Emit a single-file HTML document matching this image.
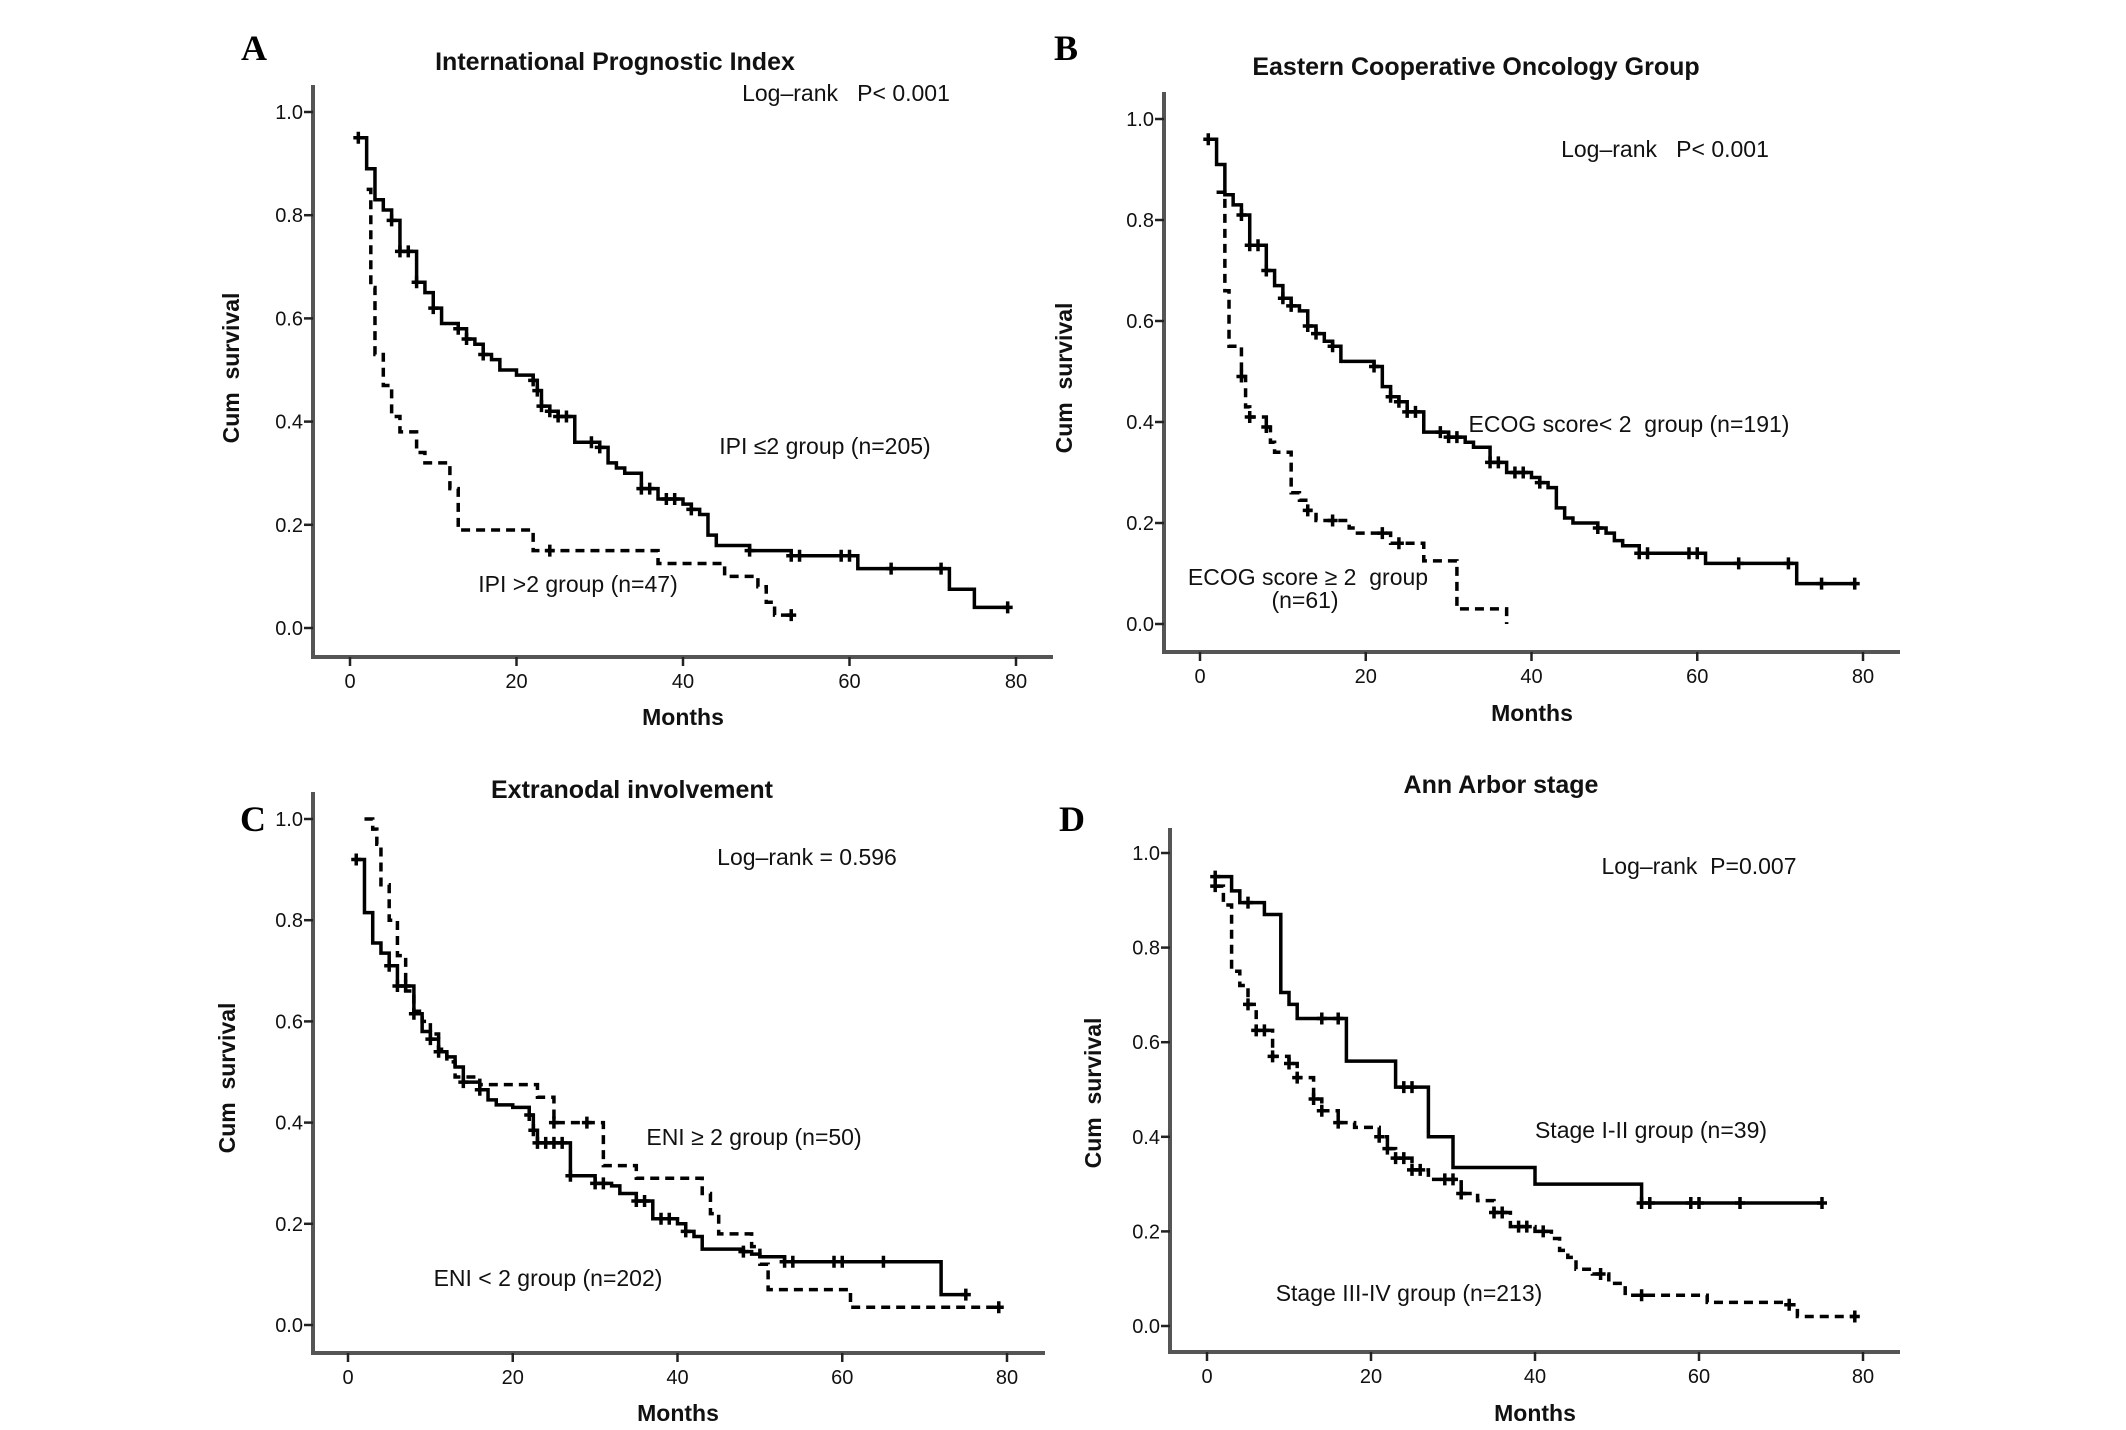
<!DOCTYPE html>
<html><head><meta charset="utf-8">
<style>
html,body{margin:0;padding:0;background:#fff;}
svg{display:block;}
text{white-space:pre;}
.tick{font-family:"Liberation Sans",Arial,sans-serif;font-size:20px;fill:#111;}
.ttl{font-family:"Liberation Sans",Arial,sans-serif;font-size:25px;font-weight:bold;fill:#111;}
.lbl{font-family:"Liberation Sans",Arial,sans-serif;font-size:23px;fill:#111;}
.ax{font-family:"Liberation Sans",Arial,sans-serif;font-size:23px;font-weight:bold;fill:#111;}
.pl{font-family:"Liberation Serif","Times New Roman",serif;font-size:36px;font-weight:bold;fill:#000;}
</style></head>
<body>
<svg id="fig" width="2126" height="1430" viewBox="0 0 2126 1430" xmlns="http://www.w3.org/2000/svg" xml:space="preserve"></svg>
<script>
// ---- Data (month of step, survival after step, censor times) ----
var xTicks = [0, 20, 40, 60, 80];
var yTicks = [0.0, 0.2, 0.4, 0.6, 0.8, 1.0];
var yTickLabels = ["0.0", "0.2", "0.4", "0.6", "0.8", "1.0"];

// Panel A: IPI
var aSolidT = [1,2,3,4,5,6,8,9,10,11,13,14,15,16,17,18,20,22,22.5,23,24,25,27,30,31,32,33,35,37,40,41,42,43,44,48,53,61,72,75];
var aSolidS = [0.95,0.89,0.83,0.81,0.79,0.73,0.67,0.65,0.62,0.59,0.58,0.56,0.55,0.53,0.52,0.50,0.49,0.48,0.46,0.43,0.42,0.41,0.36,0.35,0.32,0.31,0.30,0.27,0.25,0.24,0.23,0.22,0.18,0.16,0.15,0.14,0.115,0.075,0.04];
var aSolidC = [1,5,6,7,8,10,13,14,16,22,22.5,23,24,25,26,29,30,35,36,38,39,41,48,53,54,59,60,65,71,79];
var aDashT = [2,2.5,3,4,5,6,8,9,12,13,22,37,45,49,50,51];
var aDashS = [0.85,0.66,0.53,0.47,0.41,0.38,0.34,0.32,0.27,0.19,0.15,0.125,0.10,0.08,0.05,0.025];
var aDashC = [24,53];

// Panel B: ECOG
var bSolidT = [1,2,3,4,5,6,8,9,10,11,12,13,14,15,16,17,21,22,23,24,25,27,30,32,33,35,37,40,41,42,43,44,45,48,49,50,51,53,61,72];
var bSolidS = [0.96,0.91,0.85,0.83,0.81,0.75,0.70,0.67,0.645,0.63,0.62,0.59,0.575,0.56,0.55,0.52,0.51,0.47,0.45,0.44,0.42,0.38,0.37,0.36,0.35,0.32,0.30,0.29,0.28,0.27,0.23,0.21,0.20,0.19,0.18,0.165,0.155,0.14,0.12,0.08];
var bSolidC = [1,5,6,7,8,10,11,13,14,16,21,23,24,25,26,29,30,31,35,36,38,39,41,48,53,54,59,60,65,71,75,79];
var bDashT = [2,3,3.5,5,5.5,6,8,8.5,9,11,12,13,14,18,19,23,27,31,37];
var bDashS = [0.855,0.66,0.55,0.49,0.43,0.41,0.39,0.36,0.34,0.26,0.245,0.225,0.205,0.19,0.18,0.16,0.125,0.03,0.0];
var bDashC = [5,6,8,13,16,22,24];

// Panel C: Extranodal
var cSolidT = [1,2,3,4,5,6,8,9,10,11,12,13,14,16,17,18,20,22,22.5,23,27,30,32,33,35,37,40,41,42,43,48,49,50,53,72];
var cSolidS = [0.92,0.815,0.755,0.735,0.71,0.67,0.615,0.58,0.565,0.54,0.53,0.51,0.48,0.465,0.445,0.435,0.43,0.415,0.385,0.36,0.295,0.28,0.275,0.26,0.245,0.21,0.20,0.185,0.175,0.15,0.145,0.14,0.135,0.125,0.06];
var cSolidC = [1,5,6,7,8,10,11,14,16,22,22.5,23,24,25,26,27,30,31,35,36,38,39,41,48,53,54,59,60,65,75];
var cDashT = [2,3,3.5,4,5,6,7,8,9,10,11,12,13,16,23,25,31,35,43,44,45,49,50,51,61];
var cDashS = [1.0,0.98,0.95,0.87,0.80,0.73,0.66,0.62,0.60,0.575,0.545,0.52,0.49,0.475,0.45,0.40,0.315,0.29,0.26,0.22,0.18,0.155,0.12,0.07,0.035];
var cDashC = [25,29,79];

// Panel D: Ann Arbor
var dSolidT = [1,3,4,7,9,10,11,17,23,27,30,40,53];
var dSolidS = [0.95,0.92,0.895,0.87,0.705,0.68,0.65,0.56,0.505,0.40,0.335,0.30,0.26];
var dSolidC = [1,5,14,16,24,25,53,54,59,60,65,75];
var dDashT = [1,2,3,4,5,6,8,10,11,13,14,16,18,21,22,23,25,27,31,33,35,37,40,42,43,44,45,47,49,51,61,71,72];
var dDashS = [0.93,0.89,0.75,0.72,0.68,0.625,0.57,0.555,0.525,0.48,0.455,0.43,0.42,0.40,0.375,0.355,0.33,0.31,0.28,0.265,0.24,0.21,0.20,0.185,0.16,0.145,0.12,0.11,0.09,0.065,0.05,0.045,0.02];
var dDashC = [1,5,6,7,8,10,11,13,14,16,21,22,23,24,25,26,29,30,31,35,36,38,39,41,48,53,71,79];

var NS = "http://www.w3.org/2000/svg";
var svg = document.getElementById("fig");
function mk(tag, attrs, parent, txt){
  var e = document.createElementNS(NS, tag);
  for (var k in attrs) e.setAttribute(k, attrs[k]);
  if (txt !== undefined) e.textContent = txt;
  (parent || svg).appendChild(e);
  return e;
}
function survAt(T, S, t){
  var v = S[0];
  for (var i = 0; i < T.length; i++) if (T[i] <= t) v = S[i];
  return v;
}

function drawPanel(p){
  var g = mk("g", {});
  
  
  var X = function(m){ return p.x0 + (p.x80 - p.x0) * m / 80; };
  var Y = function(v){ return p.y0 - (p.y0 - p.y1) * v; };

  var axes = mk("path", {d:"M"+p.ax+" "+p.top+" V"+p.axy+" H"+p.right, fill:"none", stroke:"#555", "stroke-width":4}, g);
  
  

  yTicks.forEach(function(v, i){
    var t = mk("line", {x1:p.ax-9, x2:p.ax, y1:Y(v), y2:Y(v), stroke:"#222", "stroke-width":2.5}, g);
    
    
    var l = mk("text", {x:p.ax-10, y:Y(v)+7, "text-anchor":"end", "class":"tick"}, g, yTickLabels[i]);
    
    
  });
  xTicks.forEach(function(m){
    var t = mk("line", {x1:X(m), x2:X(m), y1:p.axy, y2:p.axy+9, stroke:"#222", "stroke-width":2.5}, g);
    
    
    var l = mk("text", {x:X(m), y:p.axy+31, "text-anchor":"middle", "class":"tick"}, g, String(m));
    
    
  });

  function series(T, S, C, dashed, nm){
    var d = "M" + X(T[0]) + " " + Y(S[0]);
    for (var i = 1; i < T.length; i++) d += " H" + X(T[i]) + " V" + Y(S[i]);
    var endT = Math.max(T[T.length-1], C.length ? C[C.length-1] : 0);
    d += " H" + X(endT);
    var attrs = {d:d, fill:"none", stroke:"#000", "stroke-width":3.5};
    if (dashed) attrs["stroke-dasharray"] = "9 6";
    var path = mk("path", attrs, g);
    
    
    C.forEach(function(c){
      var cx = X(c), cy = Y(survAt(T, S, c));
      var m = mk("path", {d:"M"+(cx-5)+" "+cy+" H"+(cx+5)+" M"+cx+" "+(cy-6)+" V"+(cy+6), stroke:"#000", "stroke-width":3.5, fill:"none"}, g);
      
      
    });
  }
  series(p.sT, p.sS, p.sC, false, "solid-group");
  series(p.dT, p.dS, p.dC, true, "dashed-group");

  var title = mk("text", {x:p.tx, y:p.ty+9, "text-anchor":"middle", "class":"ttl"}, g, p.title);
  
  
  var letter = mk("text", {x:p.lx, y:p.ly+13, "text-anchor":"middle", "class":"pl"}, g, p.letter);
  
  
  var lr = mk("text", {x:p.lrx, y:p.lry+8, "text-anchor":"middle", "class":"lbl"}, g, p.logrank);
  
  
  var yt = mk("text", {x:0, y:0, "text-anchor":"middle", "class":"ax", transform:"translate("+(p.cx+8)+","+p.cy+") rotate(-90)"}, g, "Cum  survival");
  
  
  var xt = mk("text", {x:p.mx, y:p.my+8, "text-anchor":"middle", "class":"ax"}, g, "Months");
  
  
  p.labels.forEach(function(L){
    var t = mk("text", {x:L[0], y:L[1]+8, "text-anchor":"middle", "class":"lbl"}, g, L[2]);
    
    
  });
}

drawPanel({name:"panel-a-ipi", letter:"A", title:"International Prognostic Index", logrank:"Log\u2013rank   P< 0.001",
  ax:313, top:85, axy:657, right:1053, x0:350, x80:1016, y0:628, y1:112,
  tx:615, ty:61, lx:254, ly:47, lrx:846, lry:93, cx:231, cy:368, mx:683, my:717,
  labels:[[825,446,"IPI \u22642 group (n=205)"],[578,584,"IPI >2 group (n=47)"]],
  sT:aSolidT, sS:aSolidS, sC:aSolidC, dT:aDashT, dS:aDashS, dC:aDashC});

drawPanel({name:"panel-b-ecog", letter:"B", title:"Eastern Cooperative Oncology Group", logrank:"Log\u2013rank   P< 0.001",
  ax:1164, top:92, axy:652, right:1900, x0:1200, x80:1863, y0:624, y1:119,
  tx:1476, ty:66, lx:1066, ly:47, lrx:1665, lry:149, cx:1064, cy:378, mx:1532, my:713,
  labels:[[1629,424,"ECOG score< 2  group (n=191)"],[1308,577,"ECOG score \u2265 2  group"],[1305,600,"(n=61)"]],
  sT:bSolidT, sS:bSolidS, sC:bSolidC, dT:bDashT, dS:bDashS, dC:bDashC});

drawPanel({name:"panel-c-extranodal", letter:"C", title:"Extranodal involvement", logrank:"Log\u2013rank = 0.596",
  ax:313, top:792, axy:1353, right:1045, x0:348, x80:1007, y0:1325, y1:819,
  tx:632, ty:789, lx:253, ly:818, lrx:807, lry:857, cx:227, cy:1078, mx:678, my:1413,
  labels:[[754,1137,"ENI \u2265 2 group (n=50)"],[548,1278,"ENI < 2 group (n=202)"]],
  sT:cSolidT, sS:cSolidS, sC:cSolidC, dT:cDashT, dS:cDashS, dC:cDashC});

drawPanel({name:"panel-d-ann-arbor", letter:"D", title:"Ann Arbor stage", logrank:"Log\u2013rank  P=0.007",
  ax:1170, top:828, axy:1352, right:1900, x0:1207, x80:1863, y0:1326, y1:853,
  tx:1501, ty:784, lx:1072, ly:818, lrx:1699, lry:866, cx:1093, cy:1093, mx:1535, my:1413,
  labels:[[1651,1130,"Stage I-II group (n=39)"],[1409,1293,"Stage III-IV group (n=213)"]],
  sT:dSolidT, sS:dSolidS, sC:dSolidC, dT:dDashT, dS:dDashS, dC:dDashC});
</script>
</body></html>
